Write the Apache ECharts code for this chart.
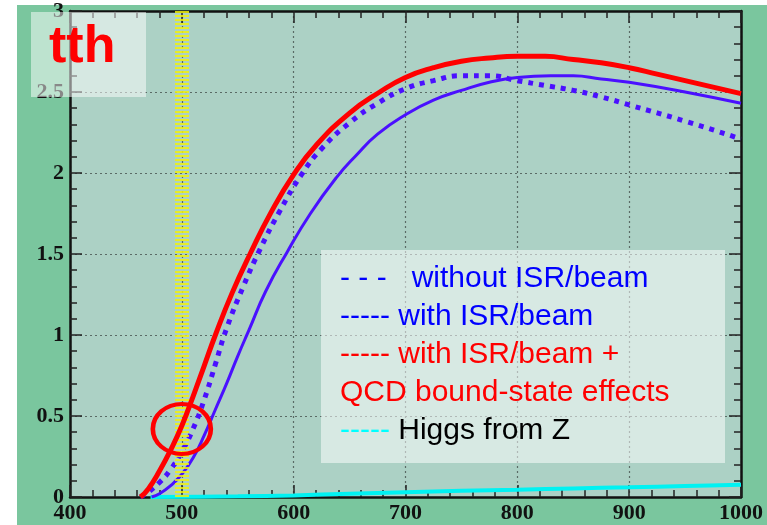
<!DOCTYPE html>
<html>
<head>
<meta charset="utf-8">
<script src="https://cdn.jsdelivr.net/npm/echarts@6/dist/echarts.min.js"></script>
<style>
  html, body { margin: 0; padding: 0; background: #ffffff; }
  #chart { width: 767px; height: 525px; }
</style>
</head>
<body>
<div id="chart"></div>
<script>
// Cross section vs. collider energy (GeV) for e+e- -> t tbar h
const xTicks = [400, 500, 600, 700, 800, 900, 1000];
const yTicks = [0, 0.5, 1, 1.5, 2, 2.5, 3];

// without ISR/beam (dotted blue)
const noIsrX = [463, 470, 480, 490, 500, 510, 520, 530, 540, 555, 570, 588, 607, 625, 650, 675, 700, 725, 750, 775, 800, 825, 850, 875, 900, 950, 1000];
const noIsrY = [0, 0.03, 0.09, 0.17, 0.28, 0.42, 0.60, 0.82, 1.04, 1.30, 1.53, 1.77, 1.99, 2.15, 2.31, 2.43, 2.52, 2.57, 2.60, 2.60, 2.57, 2.54, 2.51, 2.47, 2.42, 2.32, 2.21];

// with ISR/beam (solid blue)
const isrX = [473, 480, 490, 500, 510, 520, 530, 540, 550, 560, 575, 594, 615, 638, 656, 675, 700, 725, 750, 775, 800, 830, 850, 875, 900, 950, 1000];
const isrY = [0, 0.02, 0.07, 0.14, 0.24, 0.38, 0.54, 0.70, 0.87, 1.03, 1.27, 1.51, 1.75, 1.97, 2.11, 2.24, 2.36, 2.45, 2.51, 2.56, 2.59, 2.60, 2.60, 2.58, 2.56, 2.50, 2.43];

// with ISR/beam + QCD bound-state effects (solid red)
const qcdX = [463, 470, 480, 490, 500, 510, 520, 530, 545, 561, 580, 600, 620, 650, 677, 700, 725, 750, 775, 800, 825, 850, 875, 900, 925, 950, 975, 1000];
const qcdY = [0, 0.05, 0.16, 0.29, 0.44, 0.62, 0.81, 1.0, 1.26, 1.5, 1.76, 1.99, 2.17, 2.37, 2.50, 2.59, 2.65, 2.69, 2.71, 2.72, 2.72, 2.70, 2.68, 2.65, 2.61, 2.57, 2.53, 2.49];

// Higgs from Z (cyan)
const zhX = [472, 550, 600, 650, 700, 750, 800, 850, 900, 950, 1000];
const zhY = [0, 0.004, 0.01, 0.02, 0.03, 0.038, 0.045, 0.053, 0.06, 0.068, 0.076];

// highlighted energy
const markedEnergy = 500;

const pairs = (xs, ys) => xs.map((x, i) => [x, ys[i]]);

const serifFont = '"Liberation Serif", "DejaVu Serif", serif';
const sansFont = '"Liberation Sans", Arial, sans-serif';

function axisCommon(pos, showLabels, isX) {
  return {
    type: 'value',
    position: pos,
    min: isX ? xTicks[0] : yTicks[0],
    max: isX ? xTicks[xTicks.length - 1] : yTicks[yTicks.length - 1],
    interval: isX ? 100 : 0.5,
    axisLine: { show: true, onZero: false, lineStyle: { color: '#111', width: 2.5 } },
    axisTick: { show: true, inside: true, length: 12, lineStyle: { color: '#222', width: 1.5 } },
    minorTick: { show: true, splitNumber: 5, length: 7, lineStyle: { color: '#222', width: 1.5 } },
    splitLine: { show: showLabels, lineStyle: { color: '#5a6b66', width: 1.2, type: [2, 3] } },
    minorSplitLine: { show: false },
    axisLabel: {
      show: showLabels,
      fontFamily: serifFont,
      fontWeight: 'bold',
      fontSize: 22,
      color: '#111',
      margin: isX ? 5 : 6,
      formatter: (v) => String(v)
    }
  };
}

const chart = echarts.init(document.getElementById('chart'), null, { renderer: 'canvas' });

const option = {
  backgroundColor: '#7ac69e',
  animation: false,
  grid: {
    left: 70, right: 26, top: 6, bottom: 28,
    show: true, backgroundColor: '#acd1c5', borderWidth: 0
  },
  xAxis: [axisCommon('bottom', true, true), axisCommon('top', false, true)],
  yAxis: [axisCommon('left', true, false), axisCommon('right', false, false)],
  series: [
    {
      name: 'Higgs from Z', type: 'line', data: pairs(zhX, zhY), smooth: 0.3,
      showSymbol: false, clip: false, z: 3,
      lineStyle: { color: '#00f2f2', width: 4 }
    },
    {
      name: 'with ISR/beam', type: 'line', data: pairs(isrX, isrY), smooth: 0.5,
      showSymbol: false, z: 4,
      lineStyle: { color: '#4a10ff', width: 3 }
    },
    {
      name: 'without ISR/beam', type: 'line', data: pairs(noIsrX, noIsrY), smooth: 0.5,
      showSymbol: false, z: 4,
      lineStyle: { color: '#4a10ff', width: 5, type: [5, 6], cap: 'butt' }
    },
    {
      name: 'with ISR/beam + QCD bound-state effects', type: 'line', data: pairs(qcdX, qcdY), smooth: 0.5,
      showSymbol: false, z: 5,
      lineStyle: { color: '#ff0000', width: 5 }
    },
    {
      name: 'marked energy', type: 'line', data: [], z: 6,
      markLine: {
        silent: true, symbol: 'none', animation: false,
        label: { show: false },
        lineStyle: { color: '#f2f20a', width: 14, type: [2, 2], opacity: 0.85 },
        data: [{ xAxis: markedEnergy }]
      }
    }
  ]
};

chart.setOption(option);

// Annotation ring around the crossing near the marked energy
const ringCenter = chart.convertToPixel({ xAxisIndex: 0, yAxisIndex: 0 }, [markedEnergy, 0.42]);

const legendX = 340;
const legendFont = 30;
function legendLine(y, text) {
  return {
    type: 'text', left: legendX, top: y, z: 101,
    style: { text: text, rich: richBase, font: legendFont + 'px ' + sansFont }
  };
}
const richBase = {
  b: { fill: '#0000ff', fontSize: legendFont, fontFamily: sansFont },
  r: { fill: '#ff0000', fontSize: legendFont, fontFamily: sansFont },
  c: { fill: '#00ffff', fontSize: legendFont, fontFamily: sansFont },
  k: { fill: '#000000', fontSize: legendFont, fontFamily: sansFont }
};

chart.setOption({
  graphic: [
    // white margins at the top and left edge
    { type: 'rect', left: 0, top: 0, z: -1, shape: { width: 767, height: 5 }, style: { fill: '#ffffff' } },
    { type: 'rect', left: 0, top: 0, z: -1, shape: { width: 17, height: 525 }, style: { fill: '#ffffff' } },
    // process label
    { type: 'rect', left: 31, top: 12, z: 100, shape: { width: 115, height: 85 }, style: { fill: 'rgba(255,255,255,0.5)' } },
    {
      type: 'text', left: 49, top: 22, z: 101,
      style: { text: 'tth', fill: '#ff0000', font: 'bold 52px ' + sansFont }
    },
    // legend panel
    { type: 'rect', left: 321, top: 250, z: 100, shape: { width: 404, height: 213 }, style: { fill: 'rgba(255,255,255,0.52)' } },
    legendLine(264, '{b|- - -   without ISR/beam}'),
    legendLine(302, '{b|----- with ISR/beam}'),
    legendLine(340, '{r|----- with ISR/beam +}'),
    legendLine(378, '{r|QCD bound-state effects}'),
    legendLine(416, '{c|-----} {k|Higgs from Z}'),
    // ring
    {
      type: 'circle', x: ringCenter[0], y: ringCenter[1], scaleX: 1.16, scaleY: 1, z: 50,
      shape: { cx: 0, cy: 0, r: 25 },
      style: { fill: 'none', stroke: '#ff0000', lineWidth: 4 }
    }
  ]
});
</script>
</body>
</html>
